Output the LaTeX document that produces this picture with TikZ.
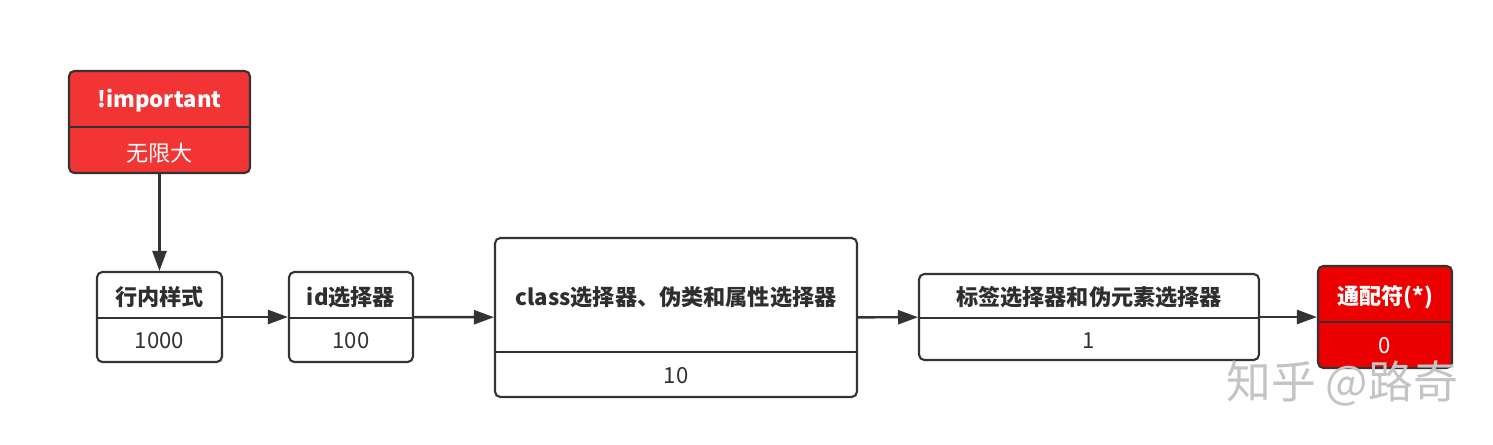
\documentclass[tikz,border=0pt]{standalone}
\usepackage{fontspec}
\setmainfont{Noto Sans CJK SC}
\usepackage{xcolor}
\usepackage{tikz}
\usetikzlibrary{arrows.meta}
\usetikzlibrary{calc}
\definecolor{edge}{HTML}{333333}
\definecolor{hot}{HTML}{F23434}
\definecolor{wild}{HTML}{EC0000}
\definecolor{mark}{HTML}{C4C4C4}
\tikzstyle{box} = [draw=edge, line width=1.2pt, rounded corners=3pt, fill=white]
\tikzstyle{hdr} = [font=\fontsize{12.6}{14}\selectfont\bfseries, text=edge!90!black]
\tikzstyle{val} = [font=\fontsize{12.6}{14}\selectfont, text=edge]
\tikzstyle{flow} = [draw=edge, line width=1.4pt, -{Triangle[length=0.4cm, width=0.28cm]}]

\begin{document}
\begin{tikzpicture}[x=0.02cm, y=-0.02cm]
	\useasboundingbox (0,0) rectangle (1493,444);

	\node[box, fill=hot, minimum width=3.62cm, minimum height=2.04cm] (imp) at (159.5, 122) {} ;
	\node[box, minimum width=2.5cm, minimum height=1.8cm] (inl) at (159.5, 317) {} ;
	\node[box, minimum width=2.48cm, minimum height=1.8cm] (idb) at (351, 317) {} ;
	\node[box, minimum width=7.24cm, minimum height=3.18cm] (cls) at (676, 317.5) {} ;
	\node[box, minimum width=6.8cm, minimum height=1.72cm] (tag) at (1089, 317) {} ;
	\node[box, fill=wild, minimum width=2.68cm, minimum height=2.04cm] (any) at (1385, 317) {} ;

	\draw[draw=edge, line width=1.2pt] (imp.west |- 0,127) -- (imp.east |- 0,127) ;
	\draw[draw=edge, line width=1.2pt] (inl.west |- 0,318) -- (inl.east |- 0,318) ;
	\draw[draw=edge, line width=1.2pt] (idb.west |- 0,318) -- (idb.east |- 0,318) ;
	\draw[draw=edge, line width=1.2pt] (cls.west |- 0,352) -- (cls.east |- 0,352) ;
	\draw[draw=edge, line width=1.2pt] (tag.west |- 0,318) -- (tag.east |- 0,318) ;
	\draw[draw=edge, line width=1.2pt] (any.west |- 0,322) -- (any.east |- 0,322) ;

	\node[hdr, text=white] (imp-h) at (159.5, 101) {!important} ;
	\node[val, text=white] (imp-v) at (159.5, 153) {无限大} ;
	\node[hdr] (inl-h) at (159.5, 297) {行内样式} ;
	\node[val] (inl-v) at (159.5, 341) {1000} ;
	\node[hdr] (idb-h) at (351, 297) {id选择器} ;
	\node[val] (idb-v) at (351, 341) {100} ;
	\node[hdr] (cls-h) at (676, 297) {class选择器、伪类和属性选择器} ;
	\node[val] (cls-v) at (676, 376) {10} ;
	\node[hdr] (tag-h) at (1089, 297) {标签选择器和伪元素选择器} ;
	\node[val] (tag-v) at (1089, 341) {1} ;
	\node[hdr, text=white] (any-h) at (1385, 297) {通配符(*)} ;
	\node[val, text=white] (any-v) at (1385, 346) {0} ;

	\draw[flow] (imp) -- (inl) ;
	\draw[flow] (inl) -- (idb) ;
	\draw[flow] (idb) -- (cls) ;
	\draw[flow] (cls) -- (tag) ;
	\draw[flow] (tag) -- (any) ;

	\node[font=\fontsize{25.5}{28}\selectfont, text=mark] (zhihu) at (1342, 384) {知乎 @路奇} ;
\end{tikzpicture}
\end{document}
